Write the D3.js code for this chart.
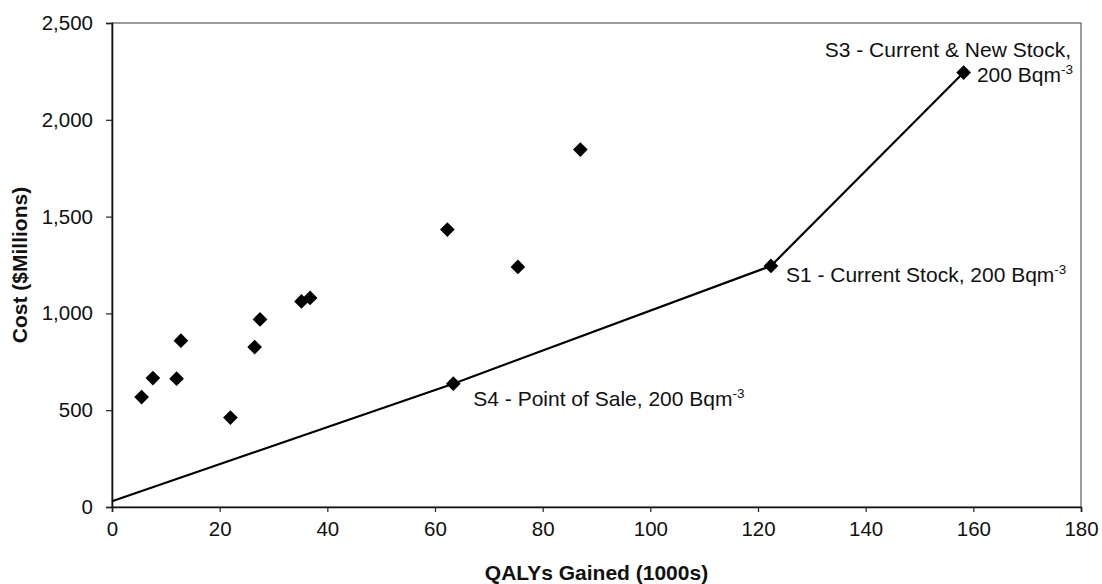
<!DOCTYPE html>
<html>
<head>
<meta charset="utf-8">
<script src="https://cdn.jsdelivr.net/npm/d3@7"></script>
<style>
  html, body { margin: 0; padding: 0; background: #fff; }
  svg { display: block; font-family: "Liberation Sans", Arial, Helvetica, sans-serif; }
</style>
</head>
<body>
<svg id="chart" width="1102" height="584"></svg>
<script>
// Other screening strategies (QALYs gained in 1000s, cost in $ millions)
const otherQaly = [5.5, 7.6, 12.0, 12.8, 22.0, 26.5, 27.5, 35.2, 36.8, 62.3, 75.4, 87.0];
const otherCost = [568, 666, 663, 859, 462, 826, 969, 1062, 1080, 1433, 1240, 1846];

// Efficiency frontier: origin, S4, S1, S3
const frontierQaly = [0, 63.4, 122.4, 158.2];
const frontierCost = [30, 637, 1245, 2244];

// Strategies labelled on the frontier
const labelNames = ["S4", "S1", "S3"];
const labelQaly = [63.4, 122.4, 158.2];
const labelCost = [637, 1245, 2244];

const xTicks = [0, 20, 40, 60, 80, 100, 120, 140, 160, 180];
const yTicks = [0, 500, 1000, 1500, 2000, 2500];

const svg = d3.select("#chart");
const plotLeft = 112, plotRight = 1081, plotTop = 23, plotBottom = 507;

const x = d3.scaleLinear().domain([0, 180]).range([plotLeft, plotRight]);
const y = d3.scaleLinear().domain([0, 2500]).range([plotBottom, plotTop]);

// plot frame (top and right edges)
svg.append("rect")
  .attr("x", plotLeft).attr("y", plotTop)
  .attr("width", plotRight - plotLeft).attr("height", plotBottom - plotTop)
  .attr("fill", "none").attr("stroke", "#5a5a5a").attr("stroke-width", 1.2);

// y axis
const yAxis = svg.append("g")
  .attr("transform", `translate(${plotLeft},0)`)
  .call(d3.axisLeft(y).tickValues(yTicks).tickSize(6).tickPadding(13)
    .tickFormat(d3.format(",")));
// x axis
const xAxis = svg.append("g")
  .attr("transform", `translate(0,${plotBottom})`)
  .call(d3.axisBottom(x).tickValues(xTicks).tickSize(5).tickPadding(7)
    .tickFormat(d3.format("d")));

[yAxis, xAxis].forEach(g => {
  g.select(".domain").attr("stroke", "#111").attr("stroke-width", 1.6);
  g.selectAll(".tick line").attr("stroke", "#222").attr("stroke-width", 1.2);
  g.selectAll(".tick text")
    .attr("fill", "#111")
    .style("font-family", '"Liberation Sans", Arial, sans-serif')
    .style("font-size", "20.5px");
});
xAxis.selectAll(".tick text").attr("dy", "0.85em");

// axis titles
svg.append("text")
  .attr("x", (plotLeft + plotRight) / 2).attr("y", 580)
  .attr("text-anchor", "middle")
  .attr("font-weight", "bold").attr("font-size", 21).attr("fill", "#111")
  .text("QALYs Gained (1000s)");

svg.append("text")
  .attr("transform", `translate(27,${(plotTop + plotBottom) / 2}) rotate(-90)`)
  .attr("text-anchor", "middle")
  .attr("font-weight", "bold").attr("font-size", 21).attr("fill", "#111")
  .text("Cost ($Millions)");

// frontier line
const frontier = frontierQaly.map((q, i) => [q, frontierCost[i]]);
svg.append("path")
  .datum(frontier)
  .attr("fill", "none").attr("stroke", "#000").attr("stroke-width", 2.2)
  .attr("d", d3.line().x(d => x(d[0])).y(d => y(d[1])));

// diamond markers
const diamond = d3.symbol().type(d3.symbolSquare).size(108)();
const points = otherQaly.map((q, i) => [q, otherCost[i]])
  .concat(labelQaly.map((q, i) => [q, labelCost[i]]));
svg.append("g").selectAll("path")
  .data(points)
  .join("path")
  .attr("d", diamond)
  .attr("fill", "#000")
  .attr("transform", d => `translate(${x(d[0])},${y(d[1])}) rotate(45)`);

// strategy labels with superscript units
function label(px, py, anchor, main) {
  const t = svg.append("text")
    .attr("x", px).attr("y", py)
    .attr("text-anchor", anchor)
    .attr("font-size", 21).attr("fill", "#111");
  t.append("tspan").text(main);
  t.append("tspan").attr("font-size", 13.5).attr("dy", -8).text("-3");
  return t;
}

const s4 = labelNames.indexOf("S4"), s1 = labelNames.indexOf("S1"), s3 = labelNames.indexOf("S3");
label(x(labelQaly[s4]) + 20, y(labelCost[s4]) + 22, "start", "S4 - Point of Sale, 200 Bqm");
label(x(labelQaly[s1]) + 15, y(labelCost[s1]) + 16, "start", "S1 - Current Stock, 200 Bqm");

svg.append("text")
  .attr("x", plotRight - 10).attr("y", y(labelCost[s3]) - 16)
  .attr("text-anchor", "end")
  .attr("font-size", 21).attr("fill", "#111")
  .text("S3 - Current & New Stock,");
label(plotRight - 8, y(labelCost[s3]) + 9, "end", "200 Bqm");
</script>
</body>
</html>
